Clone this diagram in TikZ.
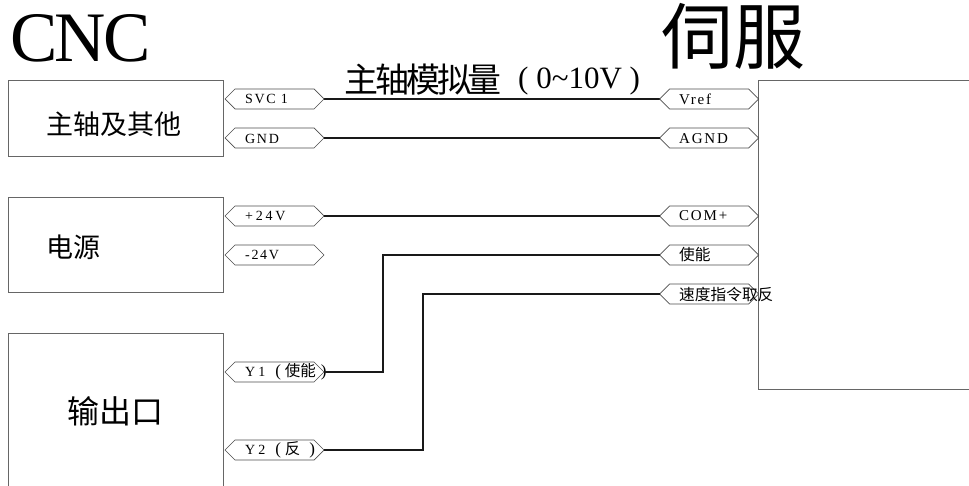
\documentclass[tikz,border=0pt]{standalone}
\usepackage{fontspec}
\setmainfont{Liberation Serif}
\newfontfamily\cjk{Noto Sans CJK SC}
\usetikzlibrary{shapes.symbols}
\tikzset{
  x=1pt,y=-1pt,
  frame/.style={draw=black!60,line width=0.8pt},
  tagbox/.style={shape=signal,signal to=east and west,signal pointer angle=90,draw=black!70,line width=0.7pt,
    minimum width=99pt,minimum height=20pt,inner sep=0pt,outer sep=0pt},
  taglabel/.style={anchor=west,inner sep=0pt,font=\fontsize{14}{16}\selectfont},
  cjklabel/.style={taglabel,font=\cjk\fontsize{15.7}{17}\selectfont},
  cjkbig/.style={inner sep=0pt,font=\cjk\fontsize{27}{30}\selectfont},
  wire/.style={draw=black!90,line width=1.4pt},
}
\newcommand{\ls}{\addfontfeature{LetterSpace=12}}
\newcommand{\pr}[1]{{\fontsize{17}{17}\selectfont #1}}
\begin{document}
\begin{tikzpicture}
\useasboundingbox (0,0) rectangle (969,486);
% frames
\draw[frame] (8,80) rectangle (223,156);
\draw[frame] (8,197) rectangle (223,292);
\draw[frame] (8,486) -- (8,333.5) -- (223,333.5) -- (223,486);
\draw[frame] (969,80) -- (758,80) -- (758,389) -- (969,389);
% wires
\draw[wire] (324,99) -- (660,99);
% titles
\node[inner sep=0pt,font=\fontsize{71}{74}\selectfont\addfontfeature{LetterSpace=-4}] (tcnc) at (80.5,38) {CNC};
\node[inner sep=0pt,font=\cjk\fontsize{72}{74}\selectfont] (tservo) at (733,36.5) {伺服};
\node[inner sep=0pt,anchor=west,font=\cjk\fontsize{34}{36}\selectfont\addfontfeature{LetterSpace=-9}] (tsig) at (344,80) {主轴模拟量};
\node[inner sep=0pt,anchor=west,font=\fontsize{31}{34}\selectfont] (tsigb) at (518,81) {( 0\char`\~10V )};
% box texts
\node[cjkbig] (b1) at (114,124) {主轴及其他};
\node[cjkbig] (b2) at (73,247) {电源};
\node[inner sep=0pt,font=\cjk\fontsize{32}{34}\selectfont] (b3) at (115,411) {输出口};
% left tags
\node[tagbox] (l1) at (274.5,99) {};
\node[tagbox] (l2) at (274.5,138) {};
\node[tagbox] (l3) at (274.5,216) {};
\node[tagbox] (l4) at (274.5,255) {};
\node[tagbox] (l5) at (274.5,372) {};
\node[tagbox] (l6) at (274.5,450) {};
% right tags
\node[tagbox] (r1) at (709,99) {};
\node[tagbox] (r2) at (709,138) {};
\node[tagbox] (r3) at (709,216) {};
\node[tagbox] (r4) at (709,255) {};
\node[tagbox] (r5) at (709,294) {};
% tag labels
\node[taglabel] (t1) at (245,99) {\ls SVC 1};
\node[taglabel] (t2) at (245,139) {\ls GND};
\node[taglabel] (t3) at (245,216) {\addfontfeature{LetterSpace=20}+24V};
\node[taglabel] (t4) at (245,255) {\ls -24V};
\node[taglabel] (t5) at (245,372) {Y\hspace{3pt}1\hspace{10pt}\pr{(}\hspace{4pt}{\cjk\fontsize{15.5}{17}\selectfont 使能}\hspace{5pt}\pr{)}};
\node[taglabel] (t6) at (245,450) {Y\hspace{3pt}2\hspace{10pt}\pr{(}\hspace{4pt}{\cjk\fontsize{15.5}{17}\selectfont 反}\hspace{9pt}\pr{)}};
\node[taglabel,font=\fontsize{15}{17}\selectfont] (t7) at (679,99) {\ls Vref};
\node[taglabel,font=\fontsize{15}{17}\selectfont] (t8) at (679,139) {\ls AGND};
\node[taglabel,font=\fontsize{15}{17}\selectfont] (t9) at (679,216) {\ls COM+};
\node[cjklabel] (t10) at (679,255) {使能};
\node[cjklabel] (t11) at (679,295) {速度指令取反};
% wires
\draw[wire] (l2.east) -- (r2.west);
\draw[wire] (l3.east) -- (r3.west);
\draw[wire] (l5.east) -- (383,372) -- (383,255) -- (r4.west);
\draw[wire] (l6.east) -- (423,450) -- (423,294) -- (r5.west);
\end{tikzpicture}
\end{document}
